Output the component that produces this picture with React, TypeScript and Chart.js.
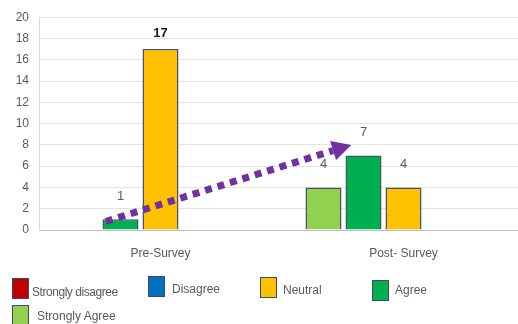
import React, { useEffect, useRef } from "react";
import { Chart, registerables } from "chart.js";

Chart.register(...registerables);

const categories = ["Pre-Survey", "Post- Survey"];
const seriesNames = ["Strongly Agree", "Agree", "Neutral", "Disagree", "Strongly disagree"];
const stronglyAgree = [null, 4];
const agree = [1, 7];
const neutral = [17, 4];
const disagree = [null, null];
const stronglyDisagree = [null, null];
const seriesColors = ["#92D050", "#00B050", "#FFC000", "#0070C0", "#C00000"];
const yMax = 20;
const yStep = 2;
// trend arrow: from/to in (category index, value) space
const arrowFrom = { index: -0.225, value: 0.8 };
const arrowTo = { index: -0.215, value: 8.0 };

const legendItems = [
  { name: "Strongly disagree", color: "#C00000" },
  { name: "Disagree", color: "#0070C0" },
  { name: "Neutral", color: "#FFC000" },
  { name: "Agree", color: "#00B050" },
  { name: "Strongly Agree", color: "#92D050" },
];

const FONT = "'Liberation Sans', Arial, sans-serif";

const labelsPlugin = {
  id: "valueLabels",
  afterDatasetsDraw(chart: any) {
    const ctx = chart.ctx;
    const top = chart.chartArea.top;
    let maxV = 0;
    chart.data.datasets.forEach((ds: any) => ds.data.forEach((v: any) => { if (v != null && v > maxV) maxV = v; }));
    ctx.save();
    ctx.textAlign = "center";
    ctx.textBaseline = "middle";
    chart.data.datasets.forEach((ds: any, di: number) => {
      const meta = chart.getDatasetMeta(di);
      meta.data.forEach((el: any, i: number) => {
        const v = ds.data[i];
        if (v == null) return;
        const big = v === maxV;
        ctx.font = (big ? "bold " : "") + "13px " + FONT;
        ctx.fillStyle = big ? "#1a1a1a" : "#595959";
        const y = Math.max(el.y - 23, top + 16);
        ctx.fillText(String(v), el.x, y);
      });
    });
    ctx.restore();
  },
};

const arrowPlugin = {
  id: "trendArrow",
  afterDraw(chart: any) {
    const xs = chart.scales.x;
    const ys = chart.scales.y;
    const x1 = xs.getPixelForValue(arrowFrom.index);
    const y1 = ys.getPixelForValue(arrowFrom.value);
    const x2 = xs.getPixelForValue(1 + arrowTo.index);
    const y2 = ys.getPixelForValue(arrowTo.value);
    const ang = Math.atan2(y2 - y1, x2 - x1);
    const headLen = 19;
    const headHalf = 10;
    const bx = x2 - headLen * Math.cos(ang);
    const by = y2 - headLen * Math.sin(ang);
    const ctx = chart.ctx;
    ctx.save();
    ctx.strokeStyle = "#7030A0";
    ctx.fillStyle = "#7030A0";
    ctx.lineWidth = 7;
    ctx.setLineDash([7, 6]);
    ctx.lineCap = "butt";
    ctx.beginPath();
    ctx.moveTo(x1, y1);
    ctx.lineTo(bx, by);
    ctx.stroke();
    ctx.setLineDash([]);
    ctx.beginPath();
    ctx.moveTo(x2, y2);
    ctx.lineTo(bx + headHalf * Math.sin(ang), by - headHalf * Math.cos(ang));
    ctx.lineTo(bx - headHalf * Math.sin(ang), by + headHalf * Math.cos(ang));
    ctx.closePath();
    ctx.fill();
    ctx.restore();
  },
};

export default function App() {
  const ref = useRef<HTMLCanvasElement | null>(null);
  useEffect(() => {
    if (!ref.current) return;
    const values = [stronglyAgree, agree, neutral, disagree, stronglyDisagree];
    const chart = new Chart(ref.current, {
      type: "bar",
      data: {
        labels: categories,
        datasets: seriesNames.map((name, i) => ({
          label: name,
          data: values[i] as any,
          backgroundColor: seriesColors[i],
          borderColor: "#44546A",
          borderWidth: 1.5,
          categoryPercentage: 0.823,
          barPercentage: 0.9,
        })),
      },
      options: {
        animation: false,
        responsive: false,
        devicePixelRatio: 1,
        layout: { padding: { top: 17, right: 2, bottom: 64, left: 0 } },
        plugins: { legend: { display: false }, tooltip: { enabled: false } },
        scales: {
          x: {
            grid: { display: false, drawTicks: false },
            border: { color: "#BFBFBF", width: 1 },
            ticks: { color: "#595959", font: { family: FONT, size: 12 }, padding: 16 },
            afterFit(s: any) { s.height = 30; },
          },
          y: {
            min: 0,
            max: yMax,
            ticks: { stepSize: yStep, color: "#595959", font: { family: FONT, size: 12 }, padding: 10 },
            grid: { color: "#E3E3E3", drawTicks: false },
            border: { color: "#D9D9D9", width: 1 },
            afterFit(s: any) { s.width = 39; },
          },
        },
      },
      plugins: [labelsPlugin, arrowPlugin],
    } as any);
    return () => chart.destroy();
  }, []);

  const box = (color: string, left: number, top: number) => (
    <div style={{ position: "absolute", left, top, width: 15, height: 19, background: color, border: "1.5px solid #3E4A66" }} />
  );
  const text = (t: string, left: number, top: number, ls = 0) => (
    <div style={{ position: "absolute", left, top, font: "12px " + FONT, color: "#595959", letterSpacing: ls, whiteSpace: "nowrap" }}>{t}</div>
  );

  return (
    <div style={{ position: "fixed", left: 0, top: 0, width: 518, height: 324, overflow: "hidden", background: "#fff" }}>
      <canvas ref={ref} width={527} height={324} style={{ position: "absolute", left: 0, top: 0 }} />
      {box(legendItems[0].color, 12, 278)}
      {text(legendItems[0].name, 32, 285, -0.45)}
      {box(legendItems[1].color, 148, 276)}
      {text(legendItems[1].name, 172, 282)}
      {box(legendItems[2].color, 260, 277)}
      {text(legendItems[2].name, 283, 283)}
      {box(legendItems[3].color, 372, 280)}
      {text(legendItems[3].name, 395, 283)}
      {box(legendItems[4].color, 12, 305)}
      {text(legendItems[4].name, 37, 309)}
    </div>
  );
}
